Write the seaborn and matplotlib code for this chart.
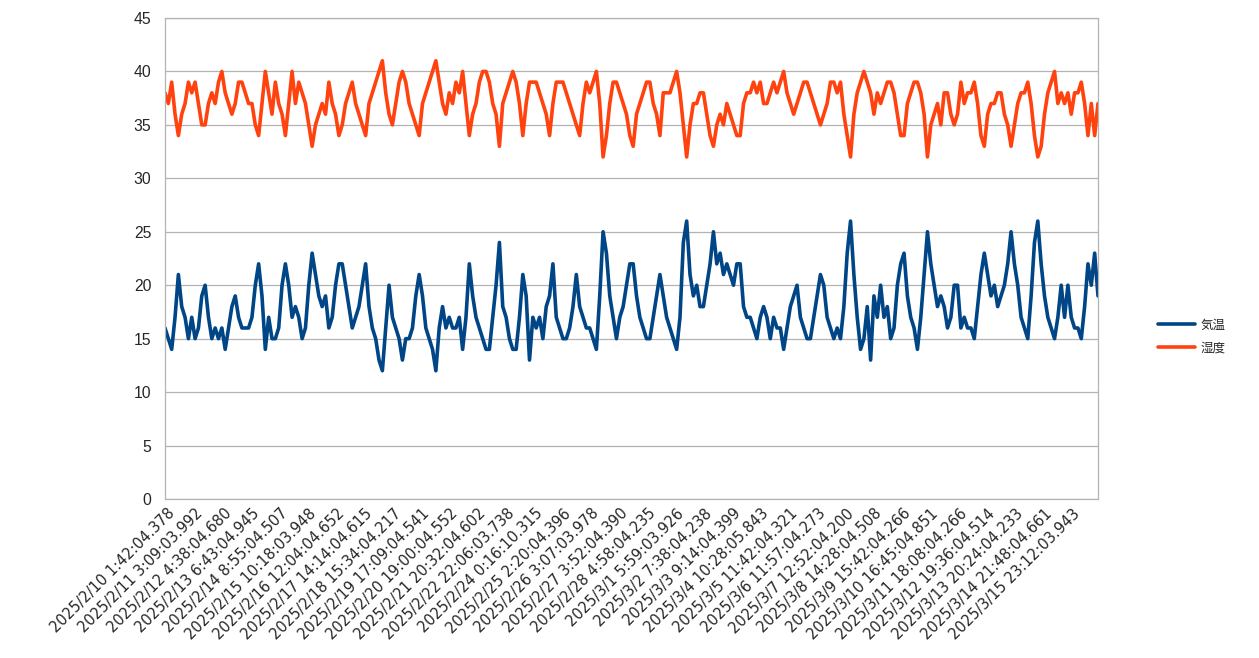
import numpy as np
import pandas as pd
import matplotlib
matplotlib.use("Agg")
import matplotlib.pyplot as plt
import seaborn as sns

# x-axis labels (every ~8.5 samples)
time_labels = [
    "2025/2/10 1:42:04.378", "2025/2/11 3:09:03.992", "2025/2/12 4:38:04.680",
    "2025/2/13 6:43:04.945", "2025/2/14 8:55:04.507", "2025/2/15 10:18:03.948",
    "2025/2/16 12:04:04.652", "2025/2/17 14:14:04.615", "2025/2/18 15:34:04.217",
    "2025/2/19 17:09:04.541", "2025/2/20 19:00:04.552", "2025/2/21 20:32:04.602",
    "2025/2/22 22:06:03.738", "2025/2/24 0:16:10.315", "2025/2/25 2:20:04.396",
    "2025/2/26 3:07:03.978", "2025/2/27 3:52:04.390", "2025/2/28 4:58:04.235",
    "2025/3/1 5:59:03.926", "2025/3/2 7:38:04.238", "2025/3/3 9:14:04.399",
    "2025/3/4 10:28:05.843", "2025/3/5 11:42:04.321", "2025/3/6 11:57:04.273",
    "2025/3/7 12:52:04.200", "2025/3/8 14:28:04.508", "2025/3/9 15:42:04.266",
    "2025/3/10 16:45:04.851", "2025/3/11 18:08:04.266", "2025/3/12 19:36:04.514",
    "2025/3/13 20:24:04.233", "2025/3/14 21:48:04.661", "2025/3/15 23:12:03.943",
]

# 気温
temperature = [
    16, 15, 14, 17, 21, 18, 17, 15, 17, 15, 16, 19, 20, 17, 15, 16, 15, 16, 14, 16,
    18, 19, 17, 16, 16, 16, 17, 20, 22, 19, 14, 17, 15, 15, 16, 20, 22, 20, 17, 18,
    17, 15, 16, 20, 23, 21, 19,
    18, 19, 16, 17, 20, 22, 22, 20, 18, 16, 17, 18, 20, 22, 18, 16, 15, 13, 12, 16,
    20, 17, 16, 15, 13, 15, 15, 16, 19, 21, 19, 16, 15, 14, 12, 16, 18, 16, 17, 16,
    16, 17, 14, 17, 22, 19,
    17, 16, 15, 14, 14, 17, 20, 24, 18, 17, 15, 14, 14, 17, 21, 19, 13, 17, 16, 17,
    15, 18, 19, 22, 17, 16, 15, 15, 16, 18, 21, 18, 17, 16, 16, 15, 14, 19, 25, 23,
    19, 17, 15, 17, 18, 20, 22,
    22, 19, 17, 16, 15, 15, 17, 19, 21, 19, 17, 16, 15, 14, 17, 24, 26, 21, 19, 20,
    18, 18, 20, 22, 25, 22, 23, 21, 22, 21, 20, 22, 22, 18, 17, 17, 16, 15, 17, 18,
    17, 15, 17, 16, 16, 14, 16,
    18, 19, 20, 17, 16, 15, 15, 17, 19, 21, 20, 17, 16, 15, 16, 15, 18, 23, 26, 21,
    17, 14, 15, 18, 13, 19, 17, 20, 17, 18, 15, 16, 20, 22, 23, 19, 17, 16, 14, 17,
    21, 25, 22, 20, 18, 19,
    18, 16, 17, 20, 20, 16, 17, 16, 16, 15, 18, 21, 23, 21, 19, 20, 18, 19, 20, 22,
    25, 22, 20, 17, 16, 15, 19, 24, 26, 22, 19, 17, 16, 15, 17, 20, 17, 20, 17, 16,
    16, 15, 18, 22, 20, 23, 19,
]

# 湿度
humidity = [
    38, 37, 39, 36, 34, 36, 37, 39, 38, 39, 37, 35, 35, 37, 38, 37, 39, 40, 38, 37,
    36, 37, 39, 39, 38, 37, 37, 35, 34, 37, 40, 38, 36, 39, 37, 36, 34, 37, 40, 37,
    39, 38, 37, 35, 33, 35, 36,
    37, 36, 39, 37, 36, 34, 35, 37, 38, 39, 37, 36, 35, 34, 37, 38, 39, 40, 41, 38,
    36, 35, 37, 39, 40, 39, 37, 36, 35, 34, 37, 38, 39, 40, 41, 39, 37, 36, 38, 37,
    39, 38, 40, 37, 34, 36,
    37, 39, 40, 40, 39, 37, 36, 33, 37, 38, 39, 40, 39, 37, 34, 37, 39, 39, 39, 38,
    37, 36, 34, 37, 39, 39, 39, 38, 37, 36, 35, 34, 37, 39, 38, 39, 40, 37, 32, 34,
    37, 39, 39, 38, 37, 36, 34,
    33, 36, 37, 38, 39, 39, 37, 36, 34, 38, 38, 38, 39, 40, 38, 35, 32, 35, 37, 37,
    38, 38, 36, 34, 33, 35, 36, 35, 37, 36, 35, 34, 34, 37, 38, 38, 39, 38, 39, 37,
    37, 38, 39, 38, 39, 40, 38,
    37, 36, 37, 38, 39, 39, 38, 37, 36, 35, 36, 37, 39, 39, 38, 39, 36, 34, 32, 36,
    38, 39, 40, 39, 38, 36, 38, 37, 38, 39, 39, 38, 36, 34, 34, 37, 38, 39, 39, 38,
    36, 32, 35, 36, 37, 35,
    38, 38, 36, 35, 36, 39, 37, 38, 38, 39, 37, 34, 33, 36, 37, 37, 38, 38, 36, 35,
    33, 35, 37, 38, 38, 39, 37, 34, 32, 33, 36, 38, 39, 40, 37, 38, 37, 38, 36, 38,
    38, 39, 37, 34, 37, 34, 37,
]

sns.set_style("white")
plt.rcParams["font.family"] = ["Liberation Sans", "Noto Sans CJK JP", "DejaVu Sans"]

n = len(temperature)
df = pd.DataFrame({
    "idx": list(range(n)) * 2,
    "value": temperature + humidity,
    "series": ["気温"] * n + ["湿度"] * n,
})

W, H = 1259, 658
fig = plt.figure(figsize=(W / 100, H / 100), dpi=100)
ax = fig.add_axes([165 / W, 1 - 499 / H, 933 / W, 481 / H])

sns.lineplot(data=df, x="idx", y="value", hue="series",
             palette={"気温": "#004586", "湿度": "#ff420e"},
             linewidth=2.6, ax=ax)

grid_c = "#b3b3b3"
ax.set_xlim(0, n - 1)
ax.set_ylim(0, 45)
ax.set_yticks(range(0, 46, 5))
ax.yaxis.grid(True, color=grid_c, linewidth=0.9)
ax.set_axisbelow(True)
for s in ax.spines.values():
    s.set_color(grid_c)
    s.set_linewidth(0.9)

tick_pos = 0.6 + 8.46 * np.arange(len(time_labels))
ax.set_xticks(tick_pos)
ax.set_xticklabels(time_labels, rotation=45, ha="right", rotation_mode="anchor",
                   family="DejaVu Sans", fontsize=10.5)
ax.set_xticks(np.arange(n), minor=True)
ax.tick_params(axis="x", which="major", length=0, pad=5)
ax.tick_params(axis="x", which="minor", length=4.3, color=grid_c, width=0.8)
ax.tick_params(axis="y", length=4.3, color=grid_c, pad=5.5, labelsize=11.3)
ax.set_xlabel("")
ax.set_ylabel("")

handles, labels = ax.get_legend_handles_labels()
ax.get_legend().remove()
for h in handles:
    h.set_linewidth(2.6)
fig.legend(handles, labels, loc="center left", bbox_to_anchor=(1147 / W, 1 - 337 / H),
           frameon=False, fontsize=9, handlelength=2.9, handletextpad=0.5,
           labelspacing=0.85)

fig.savefig("out.png", dpi=100)
